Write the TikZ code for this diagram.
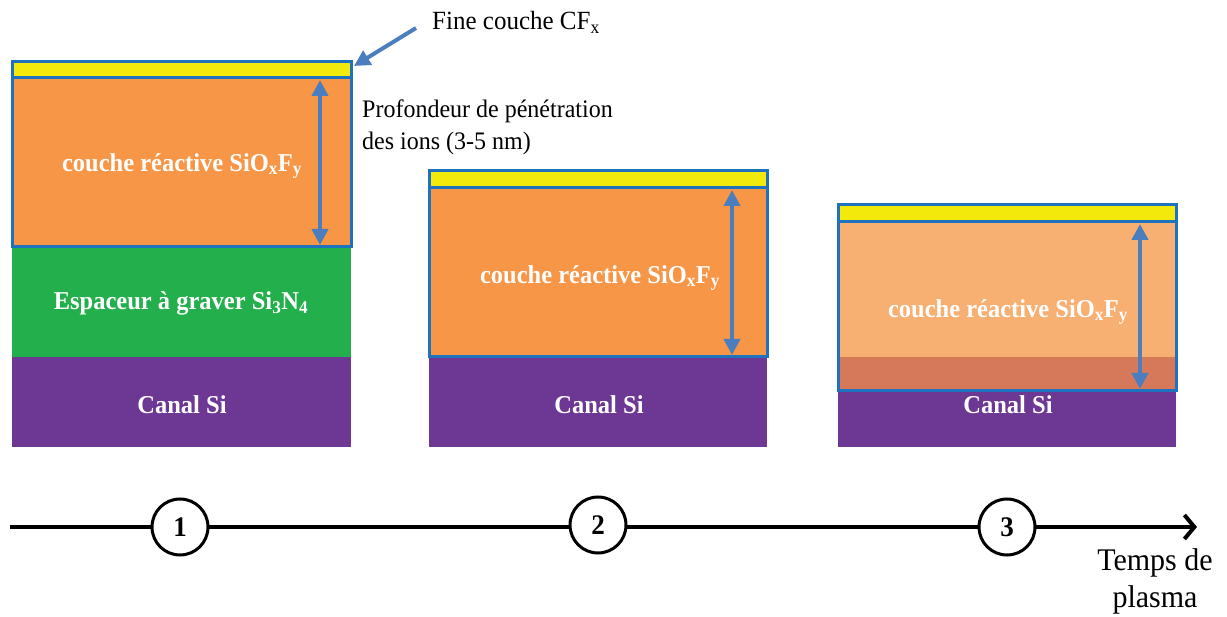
\documentclass[tikz,border=0pt]{standalone}
\usepackage{fontspec}
\usepackage{graphicx}
\setmainfont{Liberation Serif}
\usetikzlibrary{arrows.meta}
\definecolor{cyellow}{HTML}{F3EA0C}
\definecolor{corange}{HTML}{F79646}
\definecolor{clight}{HTML}{F7AF72}
\definecolor{cdark}{HTML}{D6795A}
\definecolor{cgreen}{HTML}{23B04C}
\definecolor{cpurple}{HTML}{6C3894}
\definecolor{cborder}{HTML}{1F72BD}
\definecolor{carrow}{HTML}{4A7EBF}
\newcommand\vstretch[1]{\scalebox{1}[1.05]{#1}}
\tikzset{
  border/.style={draw=cborder, line width=3},
  lbl/.style={text=white, font=\fontsize{24.5}{28}\selectfont\bfseries, inner sep=0},
  txt/.style={font=\fontsize{24}{28}\selectfont, inner sep=0},
  dbl/.style={carrow, line width=4, {Triangle[width=16,length=16]}-{Triangle[width=16,length=16]}},
  num/.style={circle, draw=black, line width=3, fill=white, minimum size=56, inner sep=0, font=\fontsize{27}{30}\selectfont\bfseries}
}
\begin{document}
\begin{tikzpicture}[x=1pt,y=-1pt]
\useasboundingbox (0,0) rectangle (1227,617);
% ---------- stack 1
\fill[cyellow] (12,62) rectangle (351,78);
\fill[corange] (12,78) rectangle (351,247);
\fill[cgreen] (12,247) rectangle (351,357);
\fill[cpurple] (12,357) rectangle (351,447);
\draw[border] (12,62) rectangle (351,247);
\draw[border] (12,78) -- (351,78);
\node[lbl] (r1) at (182,166) {\vstretch{couche réactive SiO\textsubscript{x}F\textsubscript{y}}};
\node[lbl] (e1) at (181,303) {\vstretch{Espaceur à graver Si\textsubscript{3}N\textsubscript{4}}};
\node[lbl] (s1) at (182,405) {\vstretch{Canal Si}};
\coordinate (a1t) at (320,80);
\coordinate (a1b) at (320,245);
\draw[dbl] (a1t) -- (a1b);
% ---------- stack 2
\fill[cyellow] (429,171) rectangle (767,188);
\fill[corange] (429,188) rectangle (767,357);
\fill[cpurple] (429,357) rectangle (767,447);
\draw[border] (429,171) rectangle (767,357);
\draw[border] (429,188) -- (767,188);
\node[lbl] (r2) at (600,278) {\vstretch{couche réactive SiO\textsubscript{x}F\textsubscript{y}}};
\node[lbl] (s2) at (599,405) {\vstretch{Canal Si}};
\coordinate (a2t) at (732,190);
\coordinate (a2b) at (732,355);
\draw[dbl] (a2t) -- (a2b);
% ---------- stack 3
\fill[cyellow] (838,205) rectangle (1176,222);
\fill[clight] (838,222) rectangle (1176,357);
\fill[cdark] (838,357) rectangle (1176,391);
\fill[cpurple] (838,391) rectangle (1176,447);
\draw[border] (838,205) rectangle (1176,391);
\draw[border] (838,222) -- (1176,222);
\node[lbl] (r3) at (1008,312) {\vstretch{couche réactive SiO\textsubscript{x}F\textsubscript{y}}};
\node[lbl] (s3) at (1008,405) {\vstretch{Canal Si}};
\coordinate (a3t) at (1140,224);
\coordinate (a3b) at (1140,389);
\draw[dbl] (a3t) -- (a3b);
% ---------- annotations
\node[txt, anchor=west, font=\fontsize{25}{28}\selectfont] (cf) at (432,22) {\vstretch{Fine couche CF\textsubscript{x}}};
\coordinate (cfs) at (416,28);
\coordinate (cfe) at (354,66);
\draw[carrow, line width=4, -{Triangle[width=16,length=16]}] (cfs) -- (cfe);
\node[txt, anchor=west] (pd1) at (362,111) {\vstretch{Profondeur de pénétration}};
\node[txt, anchor=west] (pd2) at (362,143) {\vstretch{des ions (3-5 nm)}};
% ---------- time axis
\coordinate (t0) at (10,527);
\coordinate (t1) at (1197,527);
\draw[line width=4, -{Straight Barb[length=10,width=24,line width=4]}] (t0) -- (t1);
\node[num] (n1) at (180,527) {\vstretch{1}};
\node[num] (n2) at (598,525) {\vstretch{2}};
\node[num] (n3) at (1007,527) {\vstretch{3}};
\node[txt, font=\fontsize{30}{34}\selectfont] (tp1) at (1155,563) {\vstretch{Temps de}};
\node[txt, font=\fontsize{30}{34}\selectfont] (tp2) at (1155,600) {\vstretch{plasma}};
\end{tikzpicture}
\end{document}
